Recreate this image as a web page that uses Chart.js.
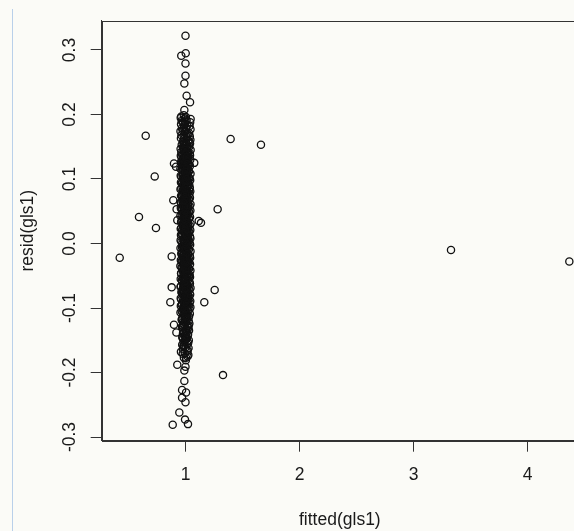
<!DOCTYPE html>
<html>
<head>
<meta charset="utf-8">
<script src="https://cdn.jsdelivr.net/npm/chart.js@4"></script>
<style>
  html, body { margin: 0; padding: 0; background: #fbfbf7; overflow: hidden; width: 574px; height: 531px; }
  #wrap { position: relative; width: 574px; height: 531px; overflow: hidden; }
  #rule { position: absolute; left: 12px; top: 9px; bottom: 0; width: 1px; background: #b9d0ea; }
  canvas { position: absolute; left: 0; top: 0; }
</style>
</head>
<body>
<div id="wrap">
  <div id="rule"></div>
  <canvas id="c" width="590" height="531"></canvas>
</div>
<script>
// Residuals vs fitted values of the gls1 model

// Observations far from the main column
const fittedOutlying = [0.423, 0.592, 0.651, 0.730, 0.741, 1.396, 1.662, 3.329, 4.367, 1.282, 1.256, 1.165, 1.329, 1.116, 1.136];
const residOutlying  = [-0.022, 0.041, 0.167, 0.104, 0.024, 0.162, 0.153, -0.010, -0.028, 0.053, -0.072, -0.091, -0.204, 0.035, 0.032];

// Observations just beside the main column
const fittedSide = [0.899, 0.917, 1.077, 1.040, 0.893, 0.922, 0.928, 0.879, 0.879, 0.867, 0.899, 0.920];
const residSide  = [0.124, 0.119, 0.125, 0.137, 0.067, 0.053, 0.036, -0.020, -0.068, -0.091, -0.126, -0.138];

// Upper part of the column
const fittedUpper = [
  1.000, 1.002, 0.963, 1.000, 1.000, 0.990, 1.010, 1.040, 0.990, 0.963, 1.045,
  0.985, 1.004, 0.993, 1.010, 0.979, 0.998, 1.016, 0.987, 1.006, 0.975,
  0.996, 1.020, 0.983, 1.009, 0.991, 1.025, 0.978, 1.002, 1.013, 0.989
];
const residUpper = [
  0.322, 0.295, 0.291, 0.279, 0.260, 0.248, 0.229, 0.219, 0.207, 0.197, 0.193,
  0.199, 0.196, 0.194, 0.191, 0.188, 0.186, 0.183, 0.180, 0.178, 0.175,
  0.173, 0.170, 0.168, 0.165, 0.163, 0.160, 0.158, 0.156, 0.154, 0.184
];

// Dense core of the column
const fittedCore = [
  0.991, 1.012, 0.978, 1.004, 0.986, 1.021, 0.997, 0.973, 1.015, 0.989,
  1.006, 0.981, 1.025, 0.995, 1.010, 0.976, 1.001, 1.018, 0.984, 0.999,
  1.027, 0.987, 1.008, 0.970, 0.996, 1.016, 0.980, 1.003, 1.022, 0.992,
  0.975, 1.011, 0.988, 1.029, 0.998, 0.983, 1.014, 1.002, 0.972, 1.019,
  0.993, 1.007, 0.979, 1.024, 0.990, 1.013, 0.985, 1.000, 1.031, 0.977,
  1.009, 0.994, 1.020, 0.982, 1.005, 0.971, 1.017, 0.997, 1.026, 0.987,
  1.002, 0.974, 1.013, 0.991, 1.023, 0.980, 1.008, 0.995, 1.018, 0.984,
  1.011, 0.969, 0.999, 1.028, 0.986, 1.004, 0.976, 1.016, 0.993, 1.021,
  0.981, 1.006, 0.990, 1.030, 0.973, 1.012, 0.997, 0.985, 1.019, 1.001,
  0.978, 1.024, 0.992, 1.009, 0.983, 1.015, 0.996, 0.971, 1.027, 1.003,
  0.988, 1.017, 0.975, 1.005, 0.994, 1.022, 0.980, 1.010, 0.998, 1.029,
  0.986, 1.001, 0.972, 1.014, 0.991, 1.025, 0.979, 1.007, 0.995, 1.019,
  0.983, 1.010, 0.997, 0.970, 1.021, 0.989, 1.004, 0.977, 1.016, 0.993,
  1.028, 0.985, 1.002, 0.974, 1.013, 0.996, 1.023, 0.981, 1.008, 0.990,
  1.018, 0.973, 0.999, 1.026, 0.987, 1.011, 0.978, 1.005, 0.994, 1.020,
  0.982, 1.015, 0.992, 1.030, 0.975, 1.003, 0.988, 1.024, 0.997, 1.009,
  0.971, 1.012, 0.985, 1.019, 0.995, 0.980, 1.027, 1.001, 0.976, 1.014,
  0.990, 1.006, 0.973, 1.022, 0.986, 1.010, 0.998, 0.983, 1.017, 1.004,
  0.979, 1.025, 0.993, 1.008, 0.970, 1.016, 0.989, 1.002, 1.028, 0.984,
  1.011, 0.977, 0.996, 1.021, 0.987, 1.006, 0.974, 1.015, 0.992, 1.003,
  0.999, 0.985, 1.009, 0.993, 0.980, 1.003, 0.996, 0.988, 1.007, 0.982,
  1.000, 0.990, 1.013, 0.986, 0.998, 1.005, 0.984, 0.994, 1.011, 0.989,
  0.997, 1.008, 0.983, 0.995, 1.004, 0.987, 1.012, 0.992, 1.001, 0.985,
  1.006, 0.993, 0.998, 1.002, 0.995, 1.010, 0.986, 1.004, 0.991, 1.007,
  0.988, 1.003, 0.997, 0.990, 1.009, 0.984, 1.001, 0.994, 1.006, 0.992
];
const residCore = [
  0.151, 0.148, 0.149, 0.144, 0.146, 0.141, 0.143, 0.138, 0.139, 0.135,
  0.137, 0.133, 0.131, 0.132, 0.128, 0.129, 0.126, 0.124, 0.125, 0.121,
  0.122, 0.119, 0.117, 0.118, 0.115, 0.113, 0.114, 0.111, 0.108, 0.110,
  0.106, 0.107, 0.104, 0.102, 0.103, 0.099, 0.101, 0.097, 0.095, 0.096,
  0.093, 0.094, 0.091, 0.089, 0.088, 0.086, 0.087, 0.084, 0.082, 0.083,
  0.080, 0.078, 0.079, 0.076, 0.074, 0.075, 0.072, 0.071, 0.069, 0.070,
  0.067, 0.065, 0.066, 0.063, 0.061, 0.062, 0.059, 0.058, 0.056, 0.057,
  0.054, 0.052, 0.053, 0.050, 0.049, 0.047, 0.048, 0.045, 0.043, 0.044,
  0.041, 0.040, 0.038, 0.039, 0.036, 0.034, 0.035, 0.032, 0.031, 0.029,
  0.030, 0.027, 0.025, 0.026, 0.023, 0.022, 0.020, 0.021, 0.018, 0.016,
  0.017, 0.014, 0.013, 0.011, 0.012, 0.009, 0.007, 0.008, 0.005, 0.004,
  0.002, 0.003, 0.000, -0.001, -0.003, -0.002, -0.005, -0.007, -0.006, -0.009,
  -0.010, -0.012, -0.011, -0.014, -0.016, -0.015, -0.018, -0.019, -0.021, -0.020,
  -0.023, -0.025, -0.024, -0.027, -0.028, -0.030, -0.029, -0.032, -0.034, -0.033,
  -0.036, -0.037, -0.039, -0.038, -0.041, -0.043, -0.042, -0.045, -0.046, -0.048,
  -0.047, -0.050, -0.052, -0.051, -0.054, -0.055, -0.057, -0.056, -0.059, -0.061,
  -0.060, -0.063, -0.064, -0.066, -0.065, -0.068, -0.070, -0.069, -0.072, -0.073,
  -0.075, -0.074, -0.077, -0.079, -0.078, -0.081, -0.082, -0.084, -0.083, -0.086,
  -0.088, -0.087, -0.090, -0.091, -0.093, -0.092, -0.095, -0.097, -0.096, -0.099,
  -0.100, -0.102, -0.104, -0.103, -0.106, -0.108, -0.107, -0.110, -0.112, -0.114,
  0.131, 0.124, 0.117, 0.109, 0.102, 0.094, 0.088, 0.081, 0.073, 0.068,
  0.060, 0.055, 0.046, 0.042, 0.033, 0.028, 0.019, 0.015, 0.006, 0.001,
  -0.004, -0.013, -0.017, -0.026, -0.031, -0.040, -0.044, -0.053, -0.058, -0.067,
  -0.071, -0.080, -0.085, 0.127, 0.112, 0.098, 0.085, 0.077, 0.064, 0.051,
  0.037, 0.024, 0.010, -0.008, -0.022, -0.035, -0.049, -0.062, -0.076, -0.089
];

// Edges of the core, slightly wider spread in fitted values
const fittedEdge = [
  0.958, 1.041, 0.966, 1.036, 0.961, 1.044, 0.969, 1.032, 0.956, 1.038,
  0.964, 1.043, 0.960, 1.035, 0.967, 1.040, 0.957, 1.033, 0.963, 1.045,
  0.959, 1.037, 0.965, 1.042, 0.962, 1.034, 0.968, 1.039, 0.955, 1.031,
  0.966, 1.044, 0.958, 1.036, 0.963, 1.041, 0.960, 1.033, 0.967, 1.038,
  0.956, 1.042, 0.964, 1.035, 0.961, 1.039, 0.969, 1.032, 0.957, 1.044,
  0.962, 1.036, 0.959, 1.043, 0.965, 1.034, 0.967, 1.040, 0.955, 1.030,
  0.965, 1.045, 0.961, 1.037, 0.963, 1.042, 0.958, 1.034, 0.968, 1.039,
  0.960, 1.043, 0.957, 1.036, 0.964, 1.041, 0.969, 1.031, 0.956, 1.044,
  0.963, 1.038, 0.966, 1.041, 0.959, 1.033, 0.967, 1.040, 0.955, 1.032,
  0.965, 1.043, 0.961, 1.037, 0.962, 1.040, 0.958, 1.034, 0.968, 1.039,
  0.960, 1.044, 0.956, 1.035, 0.964, 1.041, 0.969, 1.033, 0.958, 1.042,
  0.963, 1.036, 0.966, 1.043, 0.959, 1.035, 0.967, 1.038, 0.956, 1.031,
  0.972, 1.028, 0.966, 1.034, 0.975, 1.025, 0.969, 1.031, 0.978, 1.022,
  0.974, 1.029, 0.980, 1.024, 0.971, 1.027, 0.983, 1.020, 0.976, 1.018,
  0.980, 1.020, 0.985, 1.015, 0.978, 1.024, 0.988, 1.012, 0.982, 1.018,
  0.990, 1.010, 0.984, 1.016, 0.993, 1.007, 0.986, 1.014, 0.995, 1.005,
  0.981, 1.019, 0.988, 1.012, 0.996, 1.021, 0.979, 1.011, 0.987, 1.013,
  0.991, 1.009, 0.983, 1.017, 0.994, 1.006, 0.985, 1.015, 0.992, 1.008
];
const residEdge = [
  0.195, 0.188, 0.190, 0.182, 0.185, 0.177, 0.179, 0.171, 0.174, 0.166,
  0.168, 0.161, 0.163, 0.157, 0.153, 0.155, 0.147, 0.150, 0.142, 0.145,
  0.136, 0.140, 0.134, 0.130, 0.127, 0.123, 0.126, 0.120, 0.116, 0.112,
  0.115, 0.108, 0.105, 0.101, 0.104, 0.098, 0.095, 0.091, 0.093, 0.087,
  0.084, 0.081, 0.085, 0.077, 0.074, 0.071, 0.073, 0.068, 0.064, 0.061,
  0.063, 0.058, 0.055, 0.051, 0.053, 0.048, 0.044, 0.041, 0.043, 0.038,
  0.035, 0.031, 0.033, 0.028, 0.024, 0.021, 0.023, 0.018, 0.015, 0.011,
  0.013, 0.008, 0.005, 0.001, 0.003, -0.002, -0.006, -0.009, -0.007, -0.012,
  -0.015, -0.019, -0.017, -0.022, -0.026, -0.029, -0.027, -0.032, -0.035, -0.039,
  -0.037, -0.042, -0.046, -0.049, -0.047, -0.052, -0.055, -0.059, -0.057, -0.062,
  -0.066, -0.069, -0.067, -0.072, -0.075, -0.079, -0.077, -0.082, -0.085, -0.089,
  -0.087, -0.092, -0.095, -0.099, -0.097, -0.102, -0.105, -0.109, -0.107, -0.113,
  -0.116, -0.120, -0.118, -0.124, -0.127, -0.131, -0.129, -0.135, -0.139, -0.142,
  -0.146, -0.150, -0.148, -0.154, -0.157, -0.162, -0.160, -0.166, -0.171, -0.175,
  0.146, 0.139, 0.129, 0.118, 0.106, 0.097, 0.089, 0.079, 0.069, 0.059,
  0.047, 0.037, 0.027, 0.016, 0.006, -0.004, -0.014, -0.024, -0.034, -0.044,
  -0.054, -0.064, -0.074, -0.084, -0.094, 0.134, 0.121, 0.111, 0.092, 0.076,
  0.066, 0.049, 0.034, 0.019, 0.002, -0.011, -0.028, -0.041, -0.058, -0.071
];

// Further observations packed into the middle of the column
const fittedFill = [
  1.001, 0.992, 1.008, 0.986, 1.013, 0.995, 1.004, 0.981, 1.010, 0.997,
  0.989, 1.015, 1.002, 0.984, 1.007, 0.993, 1.018, 0.987, 0.999, 1.011,
  0.982, 1.005, 0.994, 1.016, 0.988, 1.003, 0.979, 1.012, 0.996, 1.006,
  0.985, 1.014, 0.991, 1.000, 1.009, 0.983, 1.017, 0.998, 0.990, 1.004,
  0.984, 1.019, 0.993, 1.006, 0.980, 1.011, 0.997, 1.002, 0.987, 1.014,
  0.995, 1.008, 0.982, 1.003, 1.016, 0.990, 1.010, 0.986, 0.999, 1.013,
  0.988, 1.005, 0.994, 1.020, 0.983, 1.007, 0.998, 0.985, 1.012, 1.001,
  0.992, 1.015, 0.981, 1.009, 0.996, 1.004, 0.987, 1.018, 0.993, 1.006,
  1.010, 0.985, 0.998, 1.013, 0.990, 1.004, 0.982, 1.016, 0.995, 1.007,
  0.988, 1.011, 1.000, 0.984, 1.014, 0.993, 1.005, 0.980, 1.009, 0.997,
  1.017, 0.989, 1.002, 0.986, 1.012, 0.994, 1.008, 0.983, 1.003, 0.991
];
const residFill = [
  0.189, 0.176, 0.162, 0.152, 0.143, 0.137, 0.128, 0.119, 0.113, 0.104,
  0.097, 0.090, 0.083, 0.075, 0.069, 0.062, 0.054, 0.046, 0.040, 0.032,
  0.026, 0.017, 0.010, 0.004, -0.003, -0.011, -0.018, -0.025, -0.031, -0.038,
  -0.045, -0.051, -0.058, -0.064, -0.071, -0.078, -0.084, -0.091, -0.098, -0.106,
  0.158, 0.149, 0.140, 0.133, 0.124, 0.116, 0.107, 0.100, 0.092, 0.086,
  0.078, 0.070, 0.063, 0.056, 0.049, 0.042, 0.035, 0.027, 0.020, 0.012,
  0.005, -0.002, -0.009, -0.016, -0.023, -0.030, -0.037, -0.043, -0.050, -0.057,
  -0.063, -0.070, -0.076, -0.083, -0.090, -0.097, -0.104, -0.111, -0.122, -0.133,
  0.171, 0.155, 0.145, 0.134, 0.121, 0.111, 0.099, 0.088, 0.076, 0.066,
  0.057, 0.045, 0.036, 0.025, 0.014, 0.003, -0.008, -0.019, -0.029, -0.040,
  -0.049, -0.060, -0.069, -0.081, -0.093, -0.101, -0.115, -0.126, -0.141, -0.152
];

// Lower part of the column
const fittedLower = [
  0.995, 1.012, 0.981, 1.004, 0.990, 1.018, 0.976, 1.000, 1.009, 0.985,
  1.022, 0.993, 0.972, 1.006, 0.997, 0.983, 1.015, 0.989, 1.002, 0.978,
  1.011, 0.994, 1.025, 0.986, 1.003, 0.970, 1.028, 0.999, 1.013, 0.982,
  0.928, 1.005, 0.960, 1.000, 0.990, 0.990, 0.970, 1.005, 0.970, 1.000,
  0.946, 0.996, 1.022, 0.888
];
const residLower = [
  -0.116, -0.118, -0.121, -0.123, -0.125, -0.128, -0.130, -0.133, -0.135, -0.138,
  -0.140, -0.143, -0.145, -0.148, -0.150, -0.153, -0.156, -0.158, -0.161, -0.164,
  -0.167, -0.170, -0.173, -0.177, -0.181, -0.119, -0.127, -0.136, -0.147, -0.159,
  -0.188, -0.177, -0.168, -0.191, -0.197, -0.213, -0.227, -0.231, -0.239, -0.246,
  -0.262, -0.273, -0.280, -0.281
];

// Axis ticks
const xTicks = [1, 2, 3, 4];
const yTicks = [-0.3, -0.2, -0.1, 0.0, 0.1, 0.2, 0.3];

const points = [];
function addGroup(fx, ry) {
  for (let i = 0; i < fx.length; i++) points.push({ x: fx[i], y: ry[i] });
}
addGroup(fittedOutlying, residOutlying);
addGroup(fittedSide, residSide);
addGroup(fittedUpper, residUpper);
addGroup(fittedCore, residCore);
addGroup(fittedEdge, residEdge);
addGroup(fittedFill, residFill);
addGroup(fittedLower, residLower);

const FONT = '"Liberation Sans", Arial, Helvetica, sans-serif';
const INK = '#1a1a1a';
const LINE = '#333333';
const SIZE = 17.5;

// Closed frame around the plotting region
const frame = {
  id: 'frame',
  afterDraw(chart) {
    const { ctx, chartArea: a } = chart;
    ctx.save();
    ctx.strokeStyle = LINE;
    ctx.lineWidth = 1;
    ctx.strokeRect(Math.round(a.left) + 0.5, Math.round(a.top) + 0.5,
                   Math.round(a.right - a.left), Math.round(a.bottom - a.top));
    ctx.restore();
  }
};

new Chart(document.getElementById('c'), {
  type: 'scatter',
  data: {
    datasets: [{
      data: points,
      pointStyle: 'circle',
      pointRadius: 3.6,
      pointHoverRadius: 3.6,
      pointBorderWidth: 1.3,
      borderColor: '#111',
      backgroundColor: 'rgba(0,0,0,0)'
    }]
  },
  options: {
    responsive: false,
    animation: false,
    devicePixelRatio: 1,
    events: [],
    layout: { padding: { left: 0, right: 12, top: 20.7, bottom: 0 } },
    plugins: { legend: { display: false }, tooltip: { enabled: false } },
    scales: {
      x: {
        type: 'linear',
        position: 'bottom',
        min: 0.265,
        max: 4.443,
        afterBuildTicks(s) { s.ticks = xTicks.map(v => ({ value: v })); },
        ticks: {
          color: INK, font: { family: FONT, size: SIZE }, padding: 13,
          maxRotation: 0, minRotation: 0,
          callback: v => String(v)
        },
        grid: { drawOnChartArea: false, drawTicks: true, tickLength: 11, tickColor: LINE, tickWidth: 1 },
        border: { display: true, color: LINE, width: 1 },
        title: { display: true, text: 'fitted(gls1)', color: INK, font: { family: FONT, size: SIZE }, padding: { top: 1.5, bottom: 0 } },
        afterFit(s) { s.height = 531 - 440.7; s.paddingLeft = 0; s.paddingRight = 0; }
      },
      y: {
        type: 'linear',
        min: -0.3057,
        max: 0.3454,
        afterBuildTicks(s) { s.ticks = yTicks.map(v => ({ value: v })); },
        ticks: {
          color: INK, font: { family: FONT, size: SIZE }, padding: 5,
          minRotation: 90, maxRotation: 90, crossAlign: 'center',
          callback: v => Number(v).toFixed(1)
        },
        grid: { drawOnChartArea: false, drawTicks: true, tickLength: 11, tickColor: LINE, tickWidth: 1 },
        border: { display: true, color: LINE, width: 1 },
        title: { display: true, text: 'resid(gls1)', color: INK, font: { family: FONT, size: SIZE }, padding: { top: 17.5, bottom: 0 } },
        afterFit(s) { s.width = 101.7; s.paddingTop = 0; s.paddingBottom = 0; }
      }
    }
  },
  plugins: [frame]
});
</script>
</body>
</html>
